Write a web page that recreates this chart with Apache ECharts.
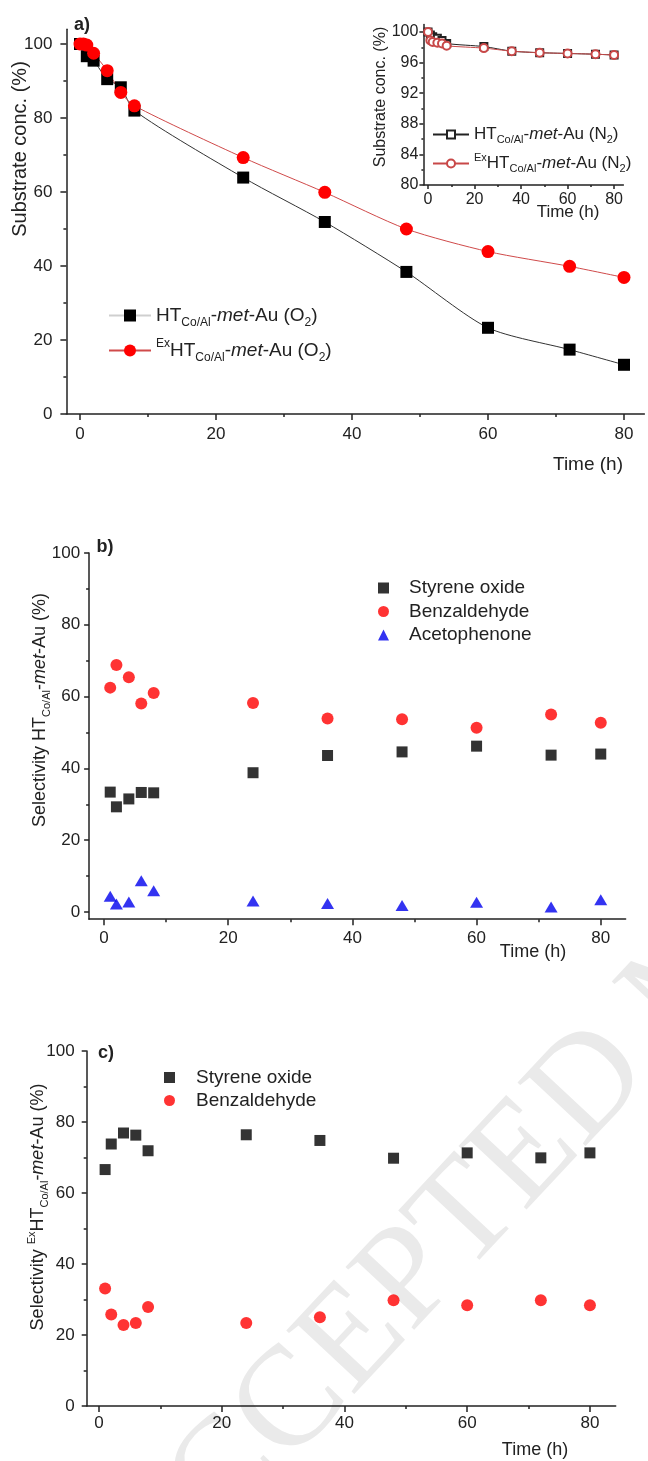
<!DOCTYPE html>
<html><head><meta charset="utf-8">
<script src="https://cdn.jsdelivr.net/npm/echarts@6/dist/echarts.min.js"></script>
<style>html,body{margin:0;padding:0;background:#fff}#c{width:648px;height:1461px}</style>
</head><body><div id="c"></div>
<script>
// ---------- Panel a (O2) ----------
const timeA_HT = [0, 1, 2, 4, 6, 8, 24, 36, 48, 60, 72, 80];
const concA_HT = [100, 96.7, 95.5, 90.5, 88.3, 82.0, 63.9, 51.9, 38.4, 23.3, 17.4, 13.3];
const timeA_Ex = [0, 0.5, 1, 2, 4, 6, 8, 24, 36, 48, 60, 72, 80];
const concA_Ex = [100, 100, 99.7, 97.5, 92.8, 86.9, 83.3, 69.3, 59.9, 50.0, 43.9, 39.9, 36.9];
// ---------- Inset (N2) ----------
const timeN2 = [0, 1, 2, 4, 6, 8, 24, 36, 48, 60, 72, 80];
const concN2_HT = [100, 99.6, 99.4, 99.2, 98.9, 98.5, 98.1, 97.5, 97.3, 97.2, 97.1, 97.0];
const concN2_Ex = [100, 98.9, 98.7, 98.6, 98.5, 98.2, 97.9, 97.5, 97.3, 97.2, 97.1, 97.0];
// ---------- Panel b / c selectivity ----------
const timeSel = [1, 2, 4, 6, 8, 24, 36, 48, 60, 72, 80];
const selB_SO = [33.4, 29.3, 31.5, 33.3, 33.2, 38.8, 43.6, 44.6, 46.2, 43.7, 44.0];
const selB_BA = [62.5, 68.8, 65.4, 58.1, 61.0, 58.2, 53.9, 53.7, 51.3, 55.0, 52.7];
const selB_AP = [4.4, 2.2, 2.8, 8.7, 5.9, 3.1, 2.4, 1.8, 2.7, 1.4, 3.4];
const selC_SO = [66.6, 73.8, 76.9, 76.3, 71.9, 76.4, 74.8, 69.8, 71.3, 69.9, 71.3];
const selC_BA = [33.1, 25.8, 22.8, 23.4, 27.9, 23.4, 25.0, 29.8, 28.4, 29.8, 28.4];
// ---------- tick values ----------
const ticksMain = [0, 20, 40, 60, 80, 100];
const ticksMainMinor = [10, 30, 50, 70, 90];
const ticksTime = [0, 20, 40, 60, 80];
const ticksTimeMinor = [10, 30, 50, 70];
const ticksInsetY = [80, 84, 88, 92, 96, 100];
const ticksInsetYMinor = [82, 86, 90, 94, 98];

const F = '"Liberation Sans", Arial, sans-serif';
const INK = '#222';
const zip = (xs, ys) => xs.map((x, i) => [x, ys[i]]);

function axisPair(kind, gi, min, max, major, minor, fs, margin, majLen, minLen) {
  const base = {type: 'value', gridIndex: gi, min: min, max: max,
    position: kind === 'x' ? 'bottom' : 'left', splitLine: {show: false}};
  return [
    Object.assign({}, base, {
      axisLine: {show: true, onZero: false, lineStyle: {color: INK, width: 1.5}},
      axisTick: {show: true, inside: false, customValues: major, length: majLen, lineStyle: {color: INK, width: 1.5}},
      axisLabel: {show: true, customValues: major, fontSize: fs, color: INK, margin: margin, fontFamily: F}
    }),
    Object.assign({}, base, {
      axisLine: {show: false, onZero: false},
      axisTick: {show: true, inside: false, customValues: minor, length: minLen, lineStyle: {color: INK, width: 1.5}},
      axisLabel: {show: false}
    })
  ];
}

const LAB = {
  HT_O2: '{n|HT}{s|Co/Al}{n|-}{i|met}{n|-Au (O}{s|2}{n|)}',
  Ex_O2: '{p|Ex}{n|HT}{s|Co/Al}{n|-}{i|met}{n|-Au (O}{s|2}{n|)}',
  HT_N2: '{n|HT}{s|Co/Al}{n|-}{i|met}{n|-Au (N}{s|2}{n|)}',
  Ex_N2: '{p|Ex}{n|HT}{s|Co/Al}{n|-}{i|met}{n|-Au (N}{s|2}{n|)}',
  SO_b: '{t|Styrene oxide}', BA_b: '{t|Benzaldehyde}', AP_b: '{t|Acetophenone}',
  SO_c: '{t|Styrene oxide}', BA_c: '{t|Benzaldehyde}'
};
function richSet(fs, sfs, lh) {
  return {
    n: {fontSize: fs, lineHeight: lh, color: INK, fontFamily: F},
    i: {fontSize: fs, lineHeight: lh, color: INK, fontFamily: F, fontStyle: 'italic'},
    s: {fontSize: sfs, lineHeight: Math.round(sfs * 0.8), verticalAlign: 'bottom', color: INK, fontFamily: F},
    p: {fontSize: sfs, lineHeight: sfs, verticalAlign: 'top', color: INK, fontFamily: F}
  };
}
function gtext(x, y, text, fs, opts) {
  opts = opts || {};
  return {type: 'text', x: x, y: y, rotation: opts.rot || 0, z: 10,
    style: Object.assign({text: text, fontSize: fs, fontFamily: F, fill: INK,
      fontWeight: opts.bold ? 'bold' : 'normal',
      align: 'center', verticalAlign: 'middle', textAlign: 'center', textVerticalAlign: 'middle'},
      opts.rich ? {rich: opts.rich} : {})};
}

const xAxes = [].concat(
  axisPair('x', 0, -2, 83, ticksTime, ticksTimeMinor, 17, 12, 6, 3),
  axisPair('x', 1, -2, 84, ticksTime, ticksTimeMinor, 16, 7, 4, 2),
  axisPair('x', 2, -2.4, 84, ticksTime, ticksTimeMinor, 17, 11, 6, 3),
  axisPair('x', 3, -2, 84.2, ticksTime, ticksTimeMinor, 17, 9, 6, 3)
);
const yAxes = [].concat(
  axisPair('y', 0, 0, 104, ticksMain, ticksMainMinor, 17, 14, 6, 3),
  axisPair('y', 1, 80, 101, ticksInsetY, ticksInsetYMinor, 16, 5, 4, 2),
  axisPair('y', 2, -2, 100, ticksMain, ticksMainMinor, 17, 9, 5, 3),
  axisPair('y', 3, 0, 100, ticksMain, ticksMainMinor, 17, 12, 5, 3)
);

const SM = 0.25;
const chart = echarts.init(document.getElementById('c'), null, {renderer: 'canvas'});
chart.setOption({
  animation: false,
  backgroundColor: '#fff',
  textStyle: {fontFamily: F},
  grid: [
    {left: 66.4, top: 29.2, width: 578, height: 384.8},
    {left: 423.4, top: 24.4, width: 200, height: 160.6},
    {left: 89.1, top: 553, width: 536.5, height: 366.2},
    {left: 86.7, top: 1051, width: 529, height: 355}
  ],
  xAxis: xAxes,
  yAxis: yAxes,
  legend: [
    {data: [{name: 'HT_O2', lineStyle: {color: '#cfcfcf'}}, {name: 'Ex_O2'}],
     orient: 'vertical', left: 108, top: 306, padding: 0, itemWidth: 42, itemHeight: 15, itemGap: 9,
     formatter: n => LAB[n], textStyle: {color: INK, fontSize: 19, rich: richSet(19, 12, 26)}},
    {data: ['HT_N2', 'Ex_N2'], orient: 'vertical', left: 432, top: 126, padding: 0,
     itemWidth: 36, itemHeight: 10, itemGap: 7,
     formatter: n => LAB[n], textStyle: {color: INK, fontSize: 17, rich: richSet(17, 11, 22)}},
    {data: ['SO_b', 'BA_b', 'AP_b'], orient: 'vertical', left: 378, top: 578.5, padding: 0,
     itemWidth: 11, itemHeight: 11, itemGap: 4.5,
     formatter: n => LAB[n], textStyle: {color: INK, fontSize: 19,
       rich: {t: {fontSize: 19, lineHeight: 22, color: INK, fontFamily: F, padding: [0, 0, 0, 15]}}}},
    {data: ['SO_c', 'BA_c'], orient: 'vertical', left: 164, top: 1068, padding: 0,
     itemWidth: 11, itemHeight: 11, itemGap: 4,
     formatter: n => LAB[n], textStyle: {color: INK, fontSize: 19,
       rich: {t: {fontSize: 19, lineHeight: 22, color: INK, fontFamily: F, padding: [0, 0, 0, 16]}}}}
  ],
  graphic: [
    {type: 'text', x: 125, y: 1585, rotation: 0.82, z: -10, silent: true,
     style: {text: 'ACCEPTED MANUSCRIPT', fontSize: 142, fontFamily: '"Liberation Serif", "Times New Roman", serif',
       fill: '#eaeaea', align: 'left', verticalAlign: 'middle', textAlign: 'left', textVerticalAlign: 'middle'}},
    gtext(82, 25, 'a)', 18, {bold: true}),
    gtext(105, 547, 'b)', 18, {bold: true}),
    gtext(106, 1053, 'c)', 18, {bold: true}),
    gtext(20, 149, 'Substrate conc. (%)', 20, {rot: Math.PI / 2}),
    gtext(588, 465, 'Time (h)', 19),
    gtext(381, 97, 'Substrate conc. (%)', 16, {rot: Math.PI / 2}),
    gtext(568, 212, 'Time (h)', 17),
    gtext(40, 710, '{n|Selectivity HT}{s|Co/Al}{n|-}{i|met}{n|-Au (%)}', 18,
      {rot: Math.PI / 2, rich: richSet(18, 11, 24)}),
    gtext(533, 952, 'Time (h)', 18),
    gtext(38, 1207, '{n|Selectivity }{p|Ex}{n|HT}{s|Co/Al}{n|-}{i|met}{n|-Au (%)}', 18,
      {rot: Math.PI / 2, rich: richSet(18, 11, 24)}),
    gtext(535, 1450, 'Time (h)', 18)
  ],
  series: [
    {name: 'HT_O2', type: 'line', xAxisIndex: 0, yAxisIndex: 0, data: zip(timeA_HT, concA_HT),
     smooth: SM, symbol: 'rect', symbolSize: 12,
     itemStyle: {color: '#000'}, lineStyle: {color: '#333', width: 1}},
    {name: 'Ex_O2', type: 'line', xAxisIndex: 0, yAxisIndex: 0, data: zip(timeA_Ex, concA_Ex),
     smooth: SM, symbol: 'circle', symbolSize: 13,
     itemStyle: {color: '#ff0000'}, lineStyle: {color: '#d04a4a', width: 1}},
    {name: 'HT_N2', type: 'line', xAxisIndex: 2, yAxisIndex: 2, data: zip(timeN2, concN2_HT),
     smooth: SM, symbol: 'emptyRect', symbolSize: 7,
     itemStyle: {color: '#222', borderWidth: 1}, lineStyle: {color: '#222', width: 1}},
    {name: 'Ex_N2', type: 'line', xAxisIndex: 2, yAxisIndex: 2, data: zip(timeN2, concN2_Ex),
     smooth: SM, symbol: 'emptyCircle', symbolSize: 8,
     itemStyle: {color: '#c84848', borderWidth: 1}, lineStyle: {color: '#c84848', width: 1}},
    {name: 'SO_b', type: 'scatter', xAxisIndex: 4, yAxisIndex: 4, data: zip(timeSel, selB_SO),
     symbol: 'rect', symbolSize: 11, itemStyle: {color: '#000'}},
    {name: 'BA_b', type: 'scatter', xAxisIndex: 4, yAxisIndex: 4, data: zip(timeSel, selB_BA),
     symbol: 'circle', symbolSize: 12, itemStyle: {color: '#ff0000'}},
    {name: 'AP_b', type: 'scatter', xAxisIndex: 4, yAxisIndex: 4, data: zip(timeSel, selB_AP),
     symbol: 'triangle', symbolSize: [13, 11], itemStyle: {color: '#0000ee'}},
    {name: 'SO_c', type: 'scatter', xAxisIndex: 6, yAxisIndex: 6, data: zip(timeSel, selC_SO),
     symbol: 'rect', symbolSize: 11, itemStyle: {color: '#000'}},
    {name: 'BA_c', type: 'scatter', xAxisIndex: 6, yAxisIndex: 6, data: zip(timeSel, selC_BA),
     symbol: 'circle', symbolSize: 12, itemStyle: {color: '#ff0000'}}
  ]
});
</script></body></html>
